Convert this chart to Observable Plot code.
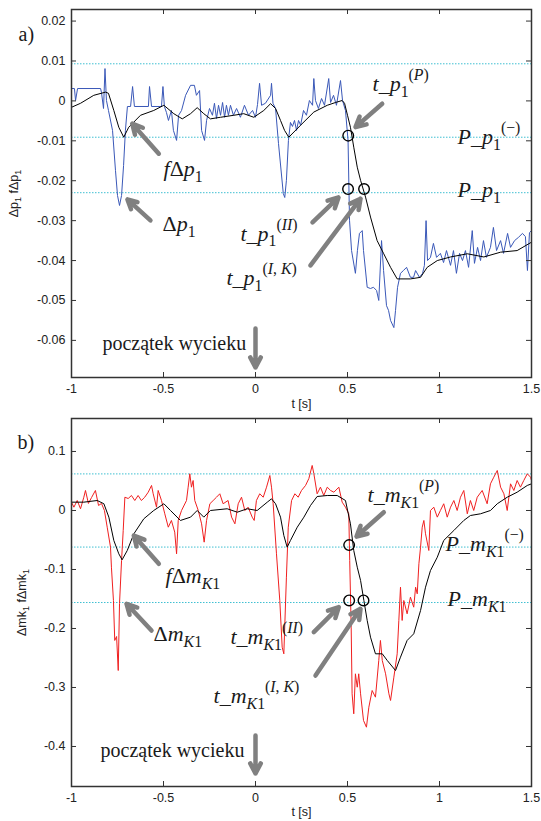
<!DOCTYPE html>
<html><head><meta charset="utf-8">
<script src="https://cdn.jsdelivr.net/npm/d3@7"></script>
<script src="https://cdn.jsdelivr.net/npm/@observablehq/plot@0.6"></script>
<style>body{margin:0;background:#fff;} svg{display:block;}</style>
</head><body>
<div id="chart"></div>
<script>
// ---------- data ----------
const xTicks = [-1, -0.5, 0, 0.5, 1, 1.5];
const yTicksA = [0.02, 0.01, 0, -0.01, -0.02, -0.03, -0.04, -0.05, -0.06];
const yTicksB = [0.1, 0, -0.1, -0.2, -0.3, -0.4];
const levelsA = [0.0093, -0.0091, -0.023];
const levelsB = [0.062, -0.062, -0.156];

// Δp1 (blue, raw)
const dp1 = [[-0.997,0.0031],[-0.984,0.0031],[-0.978,0.0001],[-0.967,0.0031],[-0.842,0.0031],[-0.837,0.0021],[-0.826,-0.0019],[-0.818,0.0081],[-0.810,0.0001],[-0.799,-0.0024],[-0.777,-0.0074],[-0.761,-0.0174],[-0.750,-0.0237],[-0.739,-0.0262],[-0.728,-0.0237],[-0.717,-0.0162],[-0.707,-0.0074],[-0.696,-0.0014],[-0.679,-0.0014],[-0.668,0.0036],[-0.658,-0.0014],[-0.582,-0.0014],[-0.576,0.0036],[-0.565,-0.0014],[-0.511,-0.0014],[-0.503,0.0036],[-0.495,-0.0014],[-0.484,-0.0029],[-0.473,-0.0049],[-0.457,-0.0024],[-0.446,-0.0074],[-0.429,-0.0099],[-0.418,-0.0036],[-0.402,-0.0024],[-0.380,0.0014],[-0.353,0.0039],[-0.332,0.0039],[-0.321,0.0014],[-0.304,0.0026],[-0.293,-0.0074],[-0.277,-0.0099],[-0.266,-0.0049],[-0.250,-0.0019],[-0.234,-0.0036],[-0.223,-0.0006],[-0.212,-0.0044],[-0.201,-0.0011],[-0.190,-0.0036],[-0.179,-0.0004],[-0.168,-0.0041],[-0.158,-0.0011],[-0.147,-0.0036],[-0.136,-0.0011],[-0.120,-0.0036],[-0.103,-0.0019],[-0.082,-0.0041],[-0.060,-0.0011],[-0.038,-0.0036],[-0.016,-0.0024],[0.000,-0.0041],[0.011,-0.0009],[0.022,0.0044],[0.033,-0.0011],[0.054,-0.0006],[0.082,0.0014],[0.087,0.0044],[0.095,-0.0006],[0.109,-0.0019],[0.125,-0.0107],[0.151,-0.0232],[0.159,-0.0242],[0.168,-0.0199],[0.179,-0.0099],[0.190,-0.0054],[0.201,-0.0064],[0.212,-0.0049],[0.223,-0.0074],[0.234,-0.0049],[0.245,-0.0061],[0.261,-0.0024],[0.277,-0.0036],[0.293,0.0001],[0.310,-0.0011],[0.317,0.0056],[0.326,0.0001],[0.342,-0.0019],[0.359,0.0006],[0.375,-0.0011],[0.398,0.0056],[0.408,-0.0004],[0.424,0.0014],[0.440,-0.0011],[0.462,0.0051],[0.473,0.0001],[0.489,-0.0024],[0.503,-0.0099],[0.511,-0.0299],[0.522,-0.0375],[0.543,-0.0432],[0.554,-0.0375],[0.565,-0.0332],[0.580,-0.0325],[0.587,-0.0375],[0.607,-0.0467],[0.625,-0.0470],[0.641,-0.0467],[0.658,-0.0475],[0.670,-0.0500],[0.685,-0.0350],[0.696,-0.0425],[0.712,-0.0513],[0.723,-0.0525],[0.734,-0.0550],[0.752,-0.0568],[0.761,-0.0525],[0.772,-0.0467],[0.788,-0.0432],[0.804,-0.0425],[0.821,-0.0417],[0.842,-0.0442],[0.859,-0.0442],[0.870,-0.0425],[0.891,-0.0442],[0.908,-0.0432],[0.918,-0.0412],[0.927,-0.0300],[0.935,-0.0400],[0.951,-0.0392],[0.967,-0.0357],[0.984,-0.0392],[1.005,-0.0382],[1.022,-0.0405],[1.038,-0.0375],[1.060,-0.0412],[1.076,-0.0375],[1.092,-0.0432],[1.109,-0.0382],[1.125,-0.0400],[1.141,-0.0375],[1.158,-0.0417],[1.178,-0.0325],[1.190,-0.0407],[1.207,-0.0367],[1.223,-0.0400],[1.239,-0.0350],[1.255,-0.0392],[1.277,-0.0367],[1.293,-0.0317],[1.310,-0.0375],[1.332,-0.0350],[1.348,-0.0382],[1.370,-0.0332],[1.386,-0.0367],[1.408,-0.0350],[1.429,-0.0342],[1.451,-0.0332],[1.467,-0.0340],[1.478,-0.0425],[1.489,-0.0330],[1.500,-0.0325]];

// fΔp1 (black, filtered)
const fdp1 = [[-1.0,-0.0016],[-0.951,-0.0006],[-0.879,0.0014],[-0.815,0.0022],[-0.799,0.0019],[-0.770,-0.0024],[-0.743,-0.0066],[-0.716,-0.0091],[-0.689,-0.0066],[-0.625,-0.0036],[-0.553,-0.0024],[-0.498,-0.0011],[-0.444,-0.0032],[-0.398,-0.0045],[-0.353,-0.0032],[-0.317,-0.0017],[-0.281,-0.0032],[-0.245,-0.0045],[-0.190,-0.0041],[-0.118,-0.0036],[-0.064,-0.0032],[-0.009,-0.0041],[0.045,-0.0024],[0.082,-0.0007],[0.109,-0.0019],[0.136,-0.0049],[0.158,-0.0074],[0.181,-0.0091],[0.245,-0.0061],[0.317,-0.0028],[0.390,-0.0011],[0.435,-0.0004],[0.471,0.0001],[0.484,-0.0006],[0.500,-0.0036],[0.516,-0.0066],[0.534,-0.0116],[0.553,-0.0166],[0.571,-0.0199],[0.598,-0.0241],[0.625,-0.0291],[0.661,-0.0350],[0.697,-0.0383],[0.734,-0.0417],[0.770,-0.0446],[0.842,-0.0446],[0.897,-0.0442],[0.933,-0.0417],[0.988,-0.0400],[1.060,-0.0391],[1.151,-0.0383],[1.241,-0.0391],[1.332,-0.0379],[1.422,-0.0375],[1.500,-0.0354]];

// ΔmK1 (red, raw)
const dmk1 = [[-1.0,0.0141],[-0.987,0.0056],[-0.969,0.0169],[-0.951,0.0029],[-0.933,0.0225],[-0.924,0.0339],[-0.908,0.0119],[-0.891,0.0220],[-0.870,0.0339],[-0.853,0.0085],[-0.837,0.0119],[-0.821,0.0],[-0.806,-0.0283],[-0.788,-0.0622],[-0.783,-0.0961],[-0.772,-0.1525],[-0.765,-0.2203],[-0.755,-0.2136],[-0.746,-0.2712],[-0.739,-0.1576],[-0.728,-0.0847],[-0.719,-0.0339],[-0.710,0.0225],[-0.692,0.0203],[-0.674,0.0254],[-0.656,0.0169],[-0.638,0.0254],[-0.620,0.0169],[-0.602,0.0225],[-0.583,0.0310],[-0.565,0.0424],[-0.556,0.0283],[-0.538,0.0056],[-0.529,0.0339],[-0.511,0.0169],[-0.493,-0.0056],[-0.474,-0.0283],[-0.457,-0.0169],[-0.439,-0.0367],[-0.429,-0.0734],[-0.420,-0.0169],[-0.402,0.0],[-0.375,0.0169],[-0.366,0.0395],[-0.357,0.0622],[-0.348,0.0395],[-0.339,0.0508],[-0.330,0.0169],[-0.311,0.0],[-0.293,-0.0226],[-0.279,-0.0537],[-0.266,-0.0169],[-0.248,0.0114],[-0.230,0.0169],[-0.212,0.0225],[-0.194,0.0283],[-0.176,0.0114],[-0.149,0.0169],[-0.130,-0.0113],[-0.112,-0.0226],[-0.094,0.0114],[-0.076,0.0225],[-0.058,0.0],[-0.040,0.0056],[-0.018,-0.0113],[-0.007,-0.0169],[0.005,0.0169],[0.023,0.0283],[0.042,0.0225],[0.060,0.0395],[0.078,0.0593],[0.087,0.0395],[0.096,0.0114],[0.114,-0.0734],[0.132,-0.1525],[0.145,-0.2317],[0.154,-0.2429],[0.168,-0.1130],[0.178,-0.0283],[0.196,0.0169],[0.214,0.0283],[0.232,0.0225],[0.250,0.0339],[0.272,0.0424],[0.290,0.0542],[0.308,0.0763],[0.317,0.0627],[0.335,0.0283],[0.353,0.0395],[0.371,0.0254],[0.390,0.0395],[0.408,0.0339],[0.426,0.0310],[0.453,0.0395],[0.471,0.0141],[0.489,0.0056],[0.507,-0.0056],[0.512,-0.0847],[0.520,-0.1978],[0.525,-0.3107],[0.534,-0.3446],[0.543,-0.2768],[0.553,-0.2995],[0.561,-0.2768],[0.571,-0.3107],[0.587,-0.3559],[0.603,-0.3673],[0.616,-0.3334],[0.634,-0.3051],[0.652,-0.3164],[0.670,-0.2542],[0.679,-0.2203],[0.689,-0.2542],[0.707,-0.2768],[0.725,-0.3107],[0.734,-0.3220],[0.752,-0.2825],[0.770,-0.2429],[0.779,-0.1864],[0.788,-0.1300],[0.797,-0.1864],[0.806,-0.1525],[0.824,-0.1751],[0.842,-0.1469],[0.860,-0.1639],[0.870,-0.1300],[0.879,-0.1412],[0.888,-0.0903],[0.897,-0.0622],[0.906,-0.0283],[0.915,-0.0169],[0.924,-0.0395],[0.942,-0.0678],[0.951,0.0],[0.969,0.0056],[0.988,-0.0113],[1.005,0.0],[1.023,0.0114],[1.042,-0.0113],[1.060,0.0056],[1.078,0.0169],[1.096,0.0],[1.114,0.0225],[1.132,0.0339],[1.151,-0.0056],[1.168,0.0169],[1.186,0.0],[1.205,0.0225],[1.232,0.0339],[1.259,0.0114],[1.277,0.0452],[1.295,0.0564],[1.314,0.0678],[1.332,0.0395],[1.350,0.0283],[1.368,0.0],[1.386,0.0452],[1.404,0.0339],[1.422,0.0508],[1.440,0.0395],[1.458,0.0508],[1.477,0.0622],[1.495,0.0564],[1.500,0.0508]];

// fΔmK1 (black, filtered)
const fdmk1 = [[-1.0,0.0141],[-0.933,0.0141],[-0.860,0.0169],[-0.824,0.0114],[-0.797,-0.0113],[-0.770,-0.0508],[-0.743,-0.0734],[-0.725,-0.0836],[-0.697,-0.0678],[-0.661,-0.0395],[-0.607,-0.0141],[-0.553,0.0],[-0.498,0.0114],[-0.462,0.0],[-0.408,-0.0169],[-0.353,-0.0113],[-0.317,0.0],[-0.281,-0.0113],[-0.245,0.0],[-0.154,0.0029],[-0.099,-0.0029],[-0.045,0.0029],[0.009,0.0],[0.064,0.0141],[0.087,0.0198],[0.109,0.0114],[0.136,-0.0113],[0.154,-0.0424],[0.172,-0.0622],[0.190,-0.0508],[0.227,-0.0283],[0.263,-0.0113],[0.299,0.0085],[0.335,0.0237],[0.390,0.0254],[0.444,0.0254],[0.489,0.0169],[0.516,-0.0226],[0.534,-0.0678],[0.553,-0.0961],[0.571,-0.1186],[0.589,-0.1525],[0.607,-0.1864],[0.625,-0.2147],[0.652,-0.2429],[0.689,-0.2429],[0.716,-0.2542],[0.761,-0.2712],[0.788,-0.2486],[0.824,-0.2203],[0.860,-0.2090],[0.897,-0.1695],[0.924,-0.1300],[0.951,-0.1017],[0.988,-0.0792],[1.023,-0.0508],[1.078,-0.0339],[1.132,-0.0169],[1.168,-0.0085],[1.223,-0.0056],[1.277,0.0],[1.314,0.0114],[1.368,0.0225],[1.422,0.0310],[1.477,0.0424],[1.500,0.0452]];

// marked crossing points (circles)
const circlesA = [[0.504,-0.0087],[0.503,-0.0221],[0.590,-0.0221]];
const circlesB = [[0.509,-0.0587],[0.509,-0.1525],[0.587,-0.1525]];

// annotations: [t, y, text]   (~..~ = subscript, ^..^ = superscript)
const labelsA = [[-0.500,-0.0189,"fΔp~1~"],[-0.505,-0.0327,"Δp~1~"],[0.636,0.0024,"t_p~1~^(P)^"],[1.098,-0.0109,"P_p~1~^(−)^"],[1.098,-0.0242,"P_p~1~"],[-0.082,-0.0350,"t_p~1~^(II)^"],[-0.158,-0.0462,"t_p~1~^(I, K)^"]];
const labelsB = [[-0.489,-0.1237,"fΔm~K1~"],[-0.554,-0.2220,"Δm~K1~"],[0.609,0.0136,"t_m~K1~^(P)^"],[1.033,-0.0695,"P_m~K1~^(−)^"],[1.044,-0.1627,"P_m~K1~"],[-0.136,-0.2271,"t_m~K1~^(II)^"],[-0.228,-0.3271,"t_m~K1~^(I, K)^"]];
const plainA = [[-0.832,-0.0625,"początek wycieku"],[-1.288,0.0149,"a)"]];
const plainB = [[-0.842,-0.4186,"początek wycieku"],[-1.294,0.1034,"b)"]];

// arrows: [t1, y1, t2, y2]
const arrowsA = [[-0.5255,-0.01323,-0.670,-0.00571],[-0.571,-0.02995,-0.696,-0.02469],[0.6886,-0.0007,0.5435,-0.00657],[0.3098,-0.03045,0.451,-0.02419],[0.299,-0.0412,0.5707,-0.0245],[0,-0.0570,0,-0.0668]];
const arrowsB = [[-0.5255,-0.0903,-0.6614,-0.0424],[-0.5652,-0.2034,-0.7011,-0.1581],[0.6973,-0.0029,0.5489,-0.0441],[0.3168,-0.2063,0.4527,-0.1639],[0.3261,-0.2797,0.5707,-0.1666],[0,-0.3814,0,-0.4458]];

const yLabelA = "Δp~1~ fΔp~1~";
const yLabelB = "Δmk~1~ fΔmk~1~";
const xLabel = "t [s]";

// ---------- drawing ----------
const SANS = "'Liberation Sans', Arial, sans-serif";
const SERIF = "'Liberation Serif', 'Times New Roman', serif";

function panel(o) {
  const W = 541, ml = 71, mr = 10;
  const ph = o.height - o.mt - o.mb, pw = W - ml - mr;
  const fmt = d => String(d);
  const X = d => d[0], Y = d => d[1];
  return Plot.plot({
    width: W, height: o.height,
    marginLeft: ml, marginRight: mr, marginTop: o.mt, marginBottom: o.mb,
    x: {domain: [-1, 1.5]},
    y: {domain: o.yDomain},
    style: {fontFamily: SANS, fontSize: "12.5px", color: "#222", background: "#fff", overflow: "visible"},
    marks: [
      Plot.ruleY(o.levels, {y: d => d, stroke: "#3fbfd2", strokeDasharray: "1.5,1.5", strokeWidth: 1}),
      Plot.line(o.sig, {x: X, y: Y, stroke: o.sigColor, strokeWidth: 1}),
      Plot.line(o.filt, {x: X, y: Y, stroke: "#000", strokeWidth: 1}),
      Plot.dot(o.circles, {x: X, y: Y, r: 5.3, stroke: "#000", strokeWidth: 1.4, fill: "none"}),
      Plot.arrow(o.arrows, {x1: d => d[0], y1: d => d[1], x2: d => d[2], y2: d => d[3],
        stroke: "#808080", strokeWidth: 4.5, headLength: 3.8, headAngle: 55}),
      Plot.text(o.labels, {x: X, y: Y, text: d => d[2], textAnchor: "start", lineAnchor: "bottom",
        fontFamily: SERIF, fontSize: 22, fill: "#1a1a1a"}),
      Plot.text(o.plain, {x: X, y: Y, text: d => d[2], textAnchor: "start", lineAnchor: "bottom",
        fontFamily: SERIF, fontSize: 20, fill: "#1a1a1a"}),
      Plot.frame({stroke: "#333", strokeWidth: 1.5}),
      Plot.ruleX(xTicks, {x: d => d, insetTop: ph - 5, stroke: "#333"}),
      Plot.ruleX(xTicks, {x: d => d, insetBottom: ph - 5, stroke: "#333"}),
      Plot.ruleY(o.yTicks, {y: d => d, insetRight: pw - 5, stroke: "#333"}),
      Plot.ruleY(o.yTicks, {y: d => d, insetLeft: pw - 5, stroke: "#333"}),
      Plot.axisX({ticks: xTicks, tickSize: 0, tickPadding: 7, tickFormat: fmt, label: null, fontSize: 12.5}),
      Plot.axisY({ticks: o.yTicks, tickSize: 0, tickPadding: 6, tickFormat: fmt, label: null, fontSize: 12.5}),
      Plot.text([xLabel], {text: d => d, frameAnchor: "bottom", lineAnchor: "top", dy: o.xlabelDy, fontSize: 12.5, fontFamily: SANS}),
      Plot.text([o.ylabel], {text: d => d, frameAnchor: "left", rotate: -90, dx: o.ylabelDx, textAnchor: "middle",
        lineAnchor: "middle", fontSize: 12.5, fontFamily: SANS})
    ]
  });
}

// turn ~sub~ and ^sup^ markup into tspans (letters italic for serif math labels)
function richify(svg) {
  const NS = "http://www.w3.org/2000/svg";
  svg.querySelectorAll("text").forEach(el => {
    const s = el.textContent;
    if (!/[~^]/.test(s)) return;
    const g = el.closest("g");
    const fam = (g && g.getAttribute("font-family")) || "";
    const italic = !/Sans/i.test(fam);
    const fs = parseFloat((g && g.getAttribute("font-size")) || "12");
    const segs = []; let buf = "", mode = "n";
    for (const ch of s) {
      if (ch === "~" || ch === "^") {
        if (buf) segs.push([mode, buf]);
        buf = "";
        const m = ch === "~" ? "sub" : "sup";
        mode = mode === m ? "n" : m;
      } else buf += ch;
    }
    if (buf) segs.push([mode, buf]);
    el.textContent = "";
    let cur = 0;
    for (const [m, txt] of segs) {
      const target = m === "sub" ? 0.26 * fs : m === "sup" ? -0.5 * fs : 0;
      const size = m === "n" ? fs : 0.72 * fs;
      const runs = italic ? txt.match(/[A-Za-z]+|[^A-Za-z]+/g) : [txt];
      runs.forEach((r, k) => {
        const ts = document.createElementNS(NS, "tspan");
        if (k === 0 && target !== cur) { ts.setAttribute("dy", (target - cur).toFixed(2)); cur = target; }
        ts.setAttribute("font-size", size);
        if (italic && /[A-Za-z]/.test(r)) ts.setAttribute("font-style", "italic");
        ts.textContent = r;
        el.appendChild(ts);
      });
    }
  });
}

const chartA = panel({height: 415, mt: 9, mb: 38, yDomain: [-0.0693, 0.0229], yTicks: yTicksA, levels: levelsA,
  sig: dp1, sigColor: "#3a58b8", filt: fdp1, circles: circlesA, labels: labelsA, plain: plainA, arrows: arrowsA,
  ylabel: yLabelA, ylabelDx: -58, xlabelDy: 22});
const chartB = panel({height: 406, mt: 3, mb: 35, yDomain: [-0.4678, 0.1559], yTicks: yTicksB, levels: levelsB,
  sig: dmk1, sigColor: "#f02020", filt: fdmk1, circles: circlesB, labels: labelsB, plain: plainB, arrows: arrowsB,
  ylabel: yLabelB, ylabelDx: -50, xlabelDy: 21});
richify(chartA); richify(chartB);
const root = document.getElementById("chart");
root.appendChild(chartA); root.appendChild(chartB);
</script>
</body></html>
